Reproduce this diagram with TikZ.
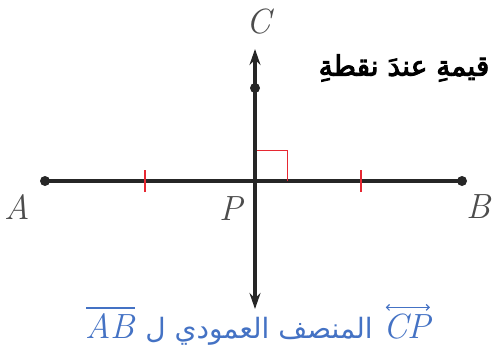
\documentclass[tikz,border=0pt]{standalone}
\usepackage{fontspec}
\TeXXeTstate=1
\newfontfamily\arabicfont[Script=Arabic]{DejaVu Sans}
\newfontfamily\arabicboldfont[Script=Arabic,FakeBold=3.5]{DejaVu Sans}
\usetikzlibrary{arrows.meta}
\definecolor{tickred}{RGB}{230,40,50}
\definecolor{capblue}{RGB}{68,114,196}
\tikzset{
  mainline/.style={line width=3.1pt, black!85},
  dotpt/.style={circle, fill=black!85, inner sep=0pt, minimum size=10pt},
  tickmark/.style={line width=1.8pt, tickred},
  ptlabel/.style={font=\fontsize{35}{38}\selectfont\itshape, text=black!70},
  arrowline/.style={mainline, {Stealth[length=16pt,width=11pt]}-{Stealth[length=16pt,width=11pt]}},
  capmath/.style={inner sep=0pt, text=capblue, font=\fontsize{35}{40}\selectfont\itshape},
  capbar/.style={capblue, line width=1.1pt}
}
\begin{document}
\begin{tikzpicture}[x=1pt,y=-1pt]
\useasboundingbox (0,0) rectangle (493,360);
% points
\node[dotpt] (A) at (45,181) {};
\node[dotpt] (B) at (462,181) {};
\node[dotpt] (C) at (255,88) {};
\coordinate (P) at (255,181);
\coordinate (top) at (255,49);
\coordinate (bot) at (255,309);
% lines
\draw[mainline] (A.center) -- (B.center);
\draw[arrowline] (top) -- (bot);
\fill[black!85] (P) circle (2.4pt);
% ticks
\coordinate (t1) at (145,181);
\coordinate (t2) at (361,181);
\draw[tickmark] ([yshift=-11pt]t1) -- ([yshift=11pt]t1);
\draw[tickmark] ([yshift=-11pt]t2) -- ([yshift=11pt]t2);
% right angle
\coordinate (ra1) at (257,150);
\coordinate (ra2) at (287,150);
\coordinate (ra3) at (287,181);
\draw[tickred, line width=0.9pt] (ra1) -- (ra2) -- (ra3);
% labels
\node[ptlabel] (lC) at (259,22) {C};
\node[ptlabel] (lA) at (17,207) {A};
\node[ptlabel] (lB) at (479,207) {B};
\node[ptlabel] (lP) at (231,209) {P};
% texts
\node[inner sep=0pt, font=\fontsize{28}{32}\selectfont] (toptext) at (404,68)
  {\arabicboldfont\beginR قيمةِ عندَ نقطةِ\endR};
\node[inner sep=0pt, text=capblue, font=\fontsize{28}{32}\selectfont] (caption) at (259,331)
  {\arabicfont\beginR المنصف العمودي ل\endR};
\node[capmath, anchor=base west] (capCP) at ([xshift=10pt]caption.base east) {CP};
\node[capmath, anchor=base east] (capAB) at ([xshift=-10pt]caption.base west) {AB};
\draw[capbar, {Straight Barb[length=3pt,width=6pt]}-{Straight Barb[length=3pt,width=6pt]}]
  ([xshift=3pt,yshift=6pt]capCP.north west) -- ([xshift=-1pt,yshift=6pt]capCP.north east);
\draw[capbar] ([xshift=1pt,yshift=5pt]capAB.north west) -- ([yshift=5pt]capAB.north east);
\end{tikzpicture}
\end{document}
